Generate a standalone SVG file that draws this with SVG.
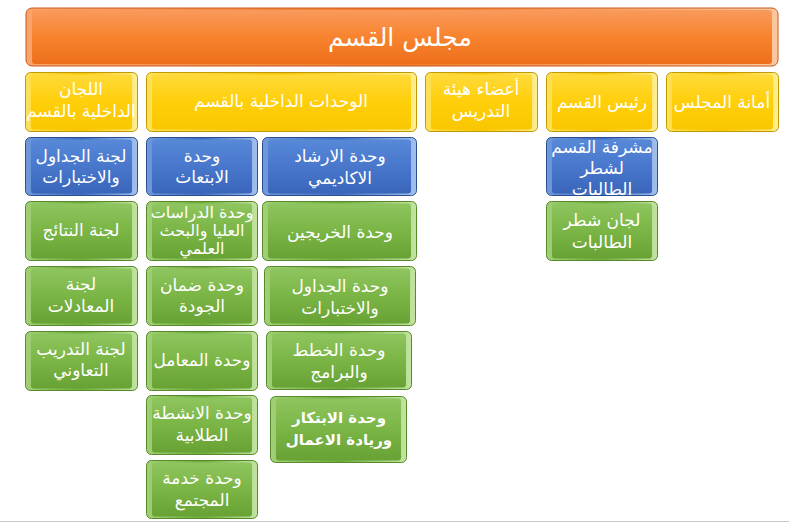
<svg xmlns="http://www.w3.org/2000/svg" width="789" height="524" viewBox="0 0 789 524">
<defs>
<linearGradient id="gO" x1="0" y1="0" x2="0" y2="1"><stop offset="0" stop-color="#F99A5C"/><stop offset="0.5" stop-color="#F8832E"/><stop offset="1" stop-color="#EE6F1C"/></linearGradient>
<linearGradient id="gY" x1="0" y1="0" x2="0" y2="1"><stop offset="0" stop-color="#FFD93A"/><stop offset="0.5" stop-color="#FFCF0A"/><stop offset="1" stop-color="#F9C700"/></linearGradient>
<linearGradient id="gB" x1="0" y1="0" x2="0" y2="1"><stop offset="0" stop-color="#5889D8"/><stop offset="0.5" stop-color="#4877CC"/><stop offset="1" stop-color="#3A66BA"/></linearGradient>
<linearGradient id="gG" x1="0" y1="0" x2="0" y2="1"><stop offset="0" stop-color="#8FC55F"/><stop offset="0.5" stop-color="#7AB545"/><stop offset="1" stop-color="#68A235"/></linearGradient>
<linearGradient id="eO" x1="0" y1="0" x2="1" y2="0"><stop offset="0" stop-color="#F9A46C"/><stop offset="0.5" stop-color="#F07A28"/><stop offset="1" stop-color="#FCC79E"/></linearGradient>
<linearGradient id="eY" x1="0" y1="0" x2="1" y2="0"><stop offset="0" stop-color="#FFE158"/><stop offset="0.5" stop-color="#F5C400"/><stop offset="1" stop-color="#FFEE90"/></linearGradient>
<linearGradient id="eB" x1="0" y1="0" x2="1" y2="0"><stop offset="0" stop-color="#7199DC"/><stop offset="0.5" stop-color="#3F6CC0"/><stop offset="1" stop-color="#A2C0EE"/></linearGradient>
<linearGradient id="eG" x1="0" y1="0" x2="1" y2="0"><stop offset="0" stop-color="#A1D075"/><stop offset="0.5" stop-color="#6FAB3C"/><stop offset="1" stop-color="#C2E4A0"/></linearGradient>
</defs>
<style>
.o{stroke-width:1}
.or .o{fill:url(#eO);stroke:#C8581A}
.or .i{fill:url(#gO)}
.ye .o{fill:url(#eY);stroke:#C29A00}
.ye .i{fill:url(#gY)}
.bl .o{fill:url(#eB);stroke:#2A4F8F}
.bl .i{fill:url(#gB)}
.gr .o{fill:url(#eG);stroke:#568A2B}
.gr .i{fill:url(#gG)}
text{font-family:"DejaVu Sans","Liberation Sans",sans-serif;fill:#FFFFFF;font-size:17px;text-anchor:middle;dominant-baseline:central}
.t{font-size:25px}
.s{font-size:16px}
.b{font-weight:bold;font-size:15px}
</style>
<line x1="0" y1="521.5" x2="789" y2="521.5" stroke="#C8C8C8" stroke-width="1"/>
<g id="connectors"></g>

<g id="n-council" class="or"><rect class="o" x="26" y="8" width="752" height="58" rx="6"/><rect class="i" x="32" y="10" width="740" height="54" rx="3"/><text class="t" x="400" y="37">مجلس القسم</text></g>

<g id="n-committees" class="ye"><rect class="o" x="25.5" y="72.5" width="112" height="59" rx="5"/><rect class="i" x="31" y="74.5" width="101" height="55" rx="3"/><text x="81" y="89">اللجان</text><text x="81" y="111">الداخلية بالقسم</text></g>
<g id="n-units" class="ye"><rect class="o" x="146.5" y="72.5" width="270" height="59" rx="5"/><rect class="i" x="152" y="74.5" width="259" height="55" rx="3"/><text x="281" y="101">الوحدات الداخلية بالقسم</text></g>
<g id="n-faculty" class="ye"><rect class="o" x="425.5" y="72.5" width="112" height="59" rx="5"/><rect class="i" x="431" y="74.5" width="101" height="55" rx="3"/><text x="481" y="89">أعضاء هيئة</text><text x="481" y="111">التدريس</text></g>
<g id="n-head" class="ye"><rect class="o" x="546.5" y="72.5" width="111" height="59" rx="5"/><rect class="i" x="552" y="74.5" width="100" height="55" rx="3"/><text x="602" y="102">رئيس القسم</text></g>
<g id="n-secretary" class="ye"><rect class="o" x="666.5" y="72.5" width="112" height="59" rx="5"/><rect class="i" x="672" y="74.5" width="101" height="55" rx="3"/><text x="722" y="102">أمانة المجلس</text></g>

<g id="n-c1" class="bl"><rect class="o" x="25.5" y="137.5" width="112" height="58" rx="5"/><rect class="i" x="31" y="139.5" width="101" height="54" rx="3"/><text x="81" y="156">لجنة الجداول</text><text x="81" y="177">والاختبارات</text></g>
<g id="n-c2" class="gr"><rect class="o" x="25.5" y="201.5" width="112" height="59" rx="5"/><rect class="i" x="31" y="203.5" width="101" height="55" rx="3"/><text x="81" y="230">لجنة النتائج</text></g>
<g id="n-c3" class="gr"><rect class="o" x="25.5" y="266.5" width="112" height="59" rx="5"/><rect class="i" x="31" y="268.5" width="101" height="55" rx="3"/><text x="81" y="284">لجنة</text><text x="81" y="306">المعادلات</text></g>
<g id="n-c4" class="gr"><rect class="o" x="25.5" y="331.5" width="112" height="59" rx="5"/><rect class="i" x="31" y="333.5" width="101" height="55" rx="3"/><text x="81" y="349">لجنة التدريب</text><text x="81" y="370">التعاوني</text></g>

<g id="n-u1" class="bl"><rect class="o" x="146.5" y="137.5" width="111" height="58" rx="5"/><rect class="i" x="152" y="139.5" width="100" height="54" rx="3"/><text x="202" y="156">وحدة</text><text x="202" y="177">الابتعاث</text></g>
<g id="n-u2" class="gr"><rect class="o" x="146.5" y="201.5" width="111" height="59" rx="5"/><rect class="i" x="152" y="203.5" width="100" height="55" rx="3"/><text class="s" x="202" y="212">وحدة الدراسات</text><text class="s" x="202" y="230">العليا والبحث</text><text class="s" x="202" y="248">العلمي</text></g>
<g id="n-u3" class="gr"><rect class="o" x="146.5" y="266.5" width="111" height="59" rx="5"/><rect class="i" x="152" y="268.5" width="100" height="55" rx="3"/><text x="202" y="285">وحدة ضمان</text><text x="202" y="306">الجودة</text></g>
<g id="n-u4" class="gr"><rect class="o" x="146.5" y="331.5" width="111" height="59" rx="5"/><rect class="i" x="152" y="333.5" width="100" height="55" rx="3"/><text x="202" y="360">وحدة المعامل</text></g>
<g id="n-u5" class="gr"><rect class="o" x="146.5" y="395.5" width="111" height="59" rx="5"/><rect class="i" x="152" y="397.5" width="100" height="55" rx="3"/><text x="202" y="413">وحدة الانشطة</text><text x="202" y="435">الطلابية</text></g>
<g id="n-u6" class="gr"><rect class="o" x="146.5" y="460.5" width="111" height="58" rx="5"/><rect class="i" x="152" y="462.5" width="100" height="54" rx="3"/><text x="202" y="478">وحدة خدمة</text><text x="202" y="500">المجتمع</text></g>

<g id="n-v1" class="bl"><rect class="o" x="262.5" y="137.5" width="154" height="58" rx="5"/><rect class="i" x="268" y="139.5" width="143" height="54" rx="3"/><text x="340" y="156">وحدة الارشاد</text><text x="340" y="178">الاكاديمي</text></g>
<g id="n-v2" class="gr"><rect class="o" x="262.5" y="201.5" width="154" height="59" rx="5"/><rect class="i" x="268" y="203.5" width="143" height="55" rx="3"/><text x="340" y="232">وحدة الخريجين</text></g>
<g id="n-v3" class="gr"><rect class="o" x="264.5" y="266.5" width="151" height="59" rx="5"/><rect class="i" x="270" y="268.5" width="140" height="55" rx="3"/><text x="340" y="286">وحدة الجداول</text><text x="340" y="308">والاختبارات</text></g>
<g id="n-v4" class="gr"><rect class="o" x="266.5" y="331.5" width="145" height="58" rx="5"/><rect class="i" x="272" y="333.5" width="134" height="54" rx="3"/><text x="339" y="350">وحدة الخطط</text><text x="339" y="372">والبرامج</text></g>
<g id="n-v5" class="gr"><rect class="o" x="270.5" y="396.5" width="136" height="66" rx="5"/><rect class="i" x="276" y="398.5" width="125" height="62" rx="3"/><text class="b" x="339" y="418">وحدة الابتكار</text><text class="b" x="339" y="440">وريادة الاعمال</text></g>

<g id="n-h1" class="bl"><rect class="o" x="546.5" y="137.5" width="111" height="58" rx="5"/><rect class="i" x="552" y="139.5" width="100" height="54" rx="3"/><text x="602" y="147">مشرفة القسم</text><text x="602" y="168">لشطر</text><text x="602" y="189">الطالبات</text></g>
<g id="n-h2" class="gr"><rect class="o" x="546.5" y="201.5" width="111" height="59" rx="5"/><rect class="i" x="552" y="203.5" width="100" height="55" rx="3"/><text x="602" y="220">لجان شطر</text><text x="602" y="242">الطالبات</text></g>
</svg>
